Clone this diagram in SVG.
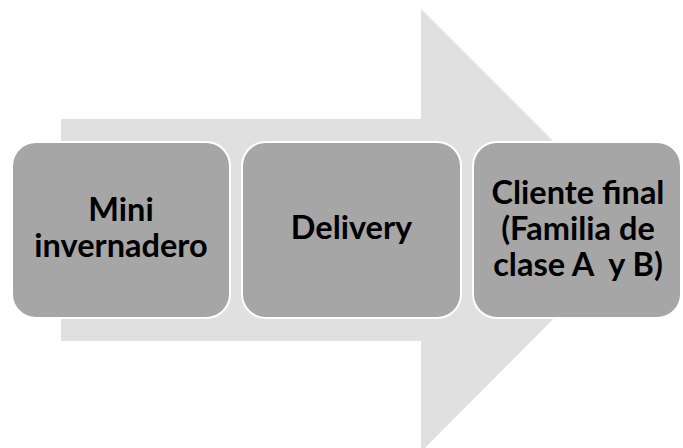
<svg xmlns="http://www.w3.org/2000/svg" width="683" height="448" viewBox="0 0 683 448">
<style>
.box{fill:#a6a6a6;stroke:#ffffff;stroke-width:2}
.lbl{font-family:Lato,"Liberation Sans",sans-serif;font-weight:bold;font-size:32.5px;fill:#000000;text-anchor:middle}
</style>
<rect width="683" height="448" fill="#ffffff"/>
<g id="arrow">
<polygon points="61,119 421,119 421,9 642,230 421,452 421,341 61,341" fill="#e0e0e0"/>
</g>
<g id="node1">
<rect class="box" x="12" y="142" width="218" height="176" rx="24"/>
<text class="lbl"><tspan x="121" y="221">Mini</tspan><tspan x="121" y="257">invernadero</tspan></text>
</g>
<g id="node2">
<rect class="box" x="242" y="142" width="219" height="176" rx="24"/>
<text class="lbl" x="351.5" y="239">Delivery</text>
</g>
<g id="node3">
<rect class="box" x="473" y="142" width="208" height="176" rx="24"/>
<text class="lbl" xml:space="preserve"><tspan x="578" y="204">Cliente final</tspan><tspan x="578" y="240">(Familia de</tspan><tspan x="578" y="276">clase A  y B)</tspan></text>
</g>
</svg>
